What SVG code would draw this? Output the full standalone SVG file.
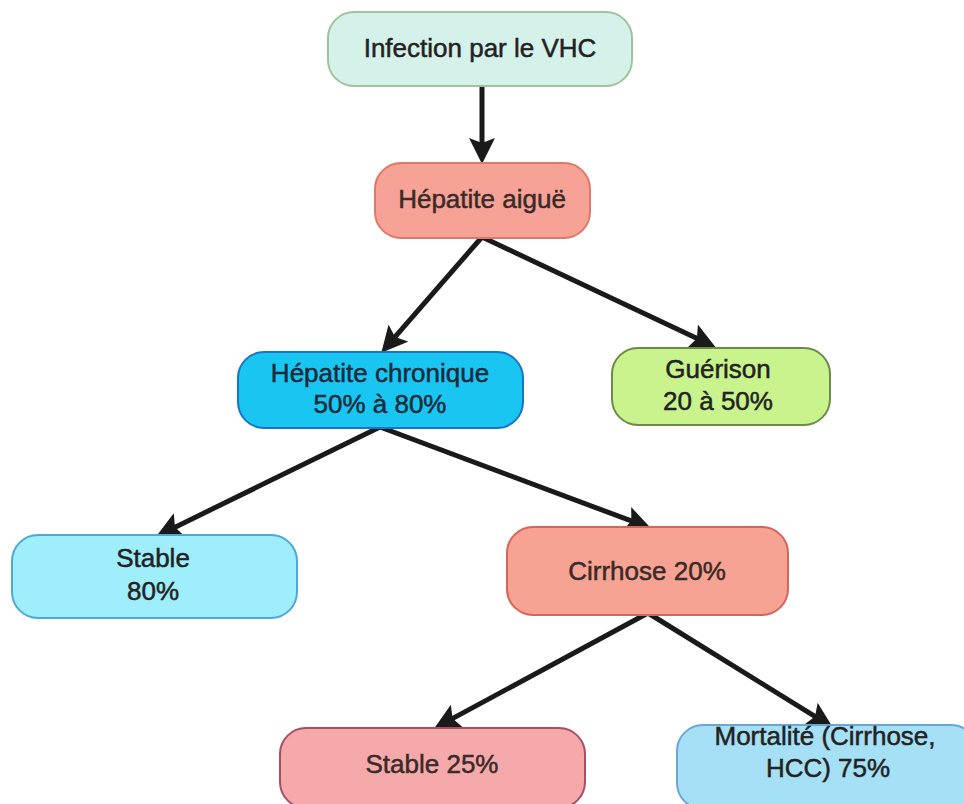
<svg xmlns="http://www.w3.org/2000/svg" width="964" height="804" viewBox="0 0 964 804">
<defs>
<style>
.n rect{stroke-width:2}
.n text{font-family:"Liberation Sans",Arial,sans-serif;font-size:26px;text-anchor:middle;fill:#222222;stroke:#222222;stroke-width:0.5}
.c line{stroke:#1a1a1a;stroke-width:5;marker-end:url(#ah)}
</style>
<marker id="ah" markerUnits="userSpaceOnUse" viewBox="0 0 26 26" markerWidth="26" markerHeight="26" refX="10" refY="13" orient="auto">
<path d="M0,0 L26,13 L0,26 L5,13 z" fill="#1a1a1a"/>
</marker>
</defs>
<rect width="964" height="804" fill="#ffffff"/>
<g id="connectors" class="c">
<line x1="482" y1="86" x2="482" y2="148"/>
<line x1="482" y1="237" x2="391.8" y2="340.7"/>
<line x1="482" y1="237" x2="701.4" y2="340.6"/>
<line x1="380" y1="427" x2="170.5" y2="529.4"/>
<line x1="380" y1="427" x2="636" y2="522.7"/>
<line x1="648" y1="613" x2="448.2" y2="720.9"/>
<line x1="648" y1="613" x2="819.3" y2="719.1"/>
</g>
<g id="n1" class="n">
<rect x="328" y="12" width="304" height="74" rx="26" fill="#d5f2ea" stroke="#9fc39a"/>
<text x="480" y="57">Infection par le VHC</text>
</g>
<g id="n2" class="n">
<rect x="375" y="163" width="215" height="75" rx="26" fill="#f7a296" stroke="#e0786a"/>
<text x="482" y="208" style="fill:#3a2a28;stroke:#3a2a28">Hépatite aiguë</text>
</g>
<g id="n3" class="n">
<rect x="238" y="352" width="285" height="76" rx="26" fill="#19c6f1" stroke="#1a74c4"/>
<text x="380" y="382" style="fill:#1a2a3a;stroke:#1a2a3a">Hépatite chronique</text>
<text x="380" y="413" style="fill:#1a2a3a;stroke:#1a2a3a">50% à 80%</text>
</g>
<g id="n4" class="n">
<rect x="612" y="348" width="218" height="77" rx="26" fill="#c9f38c" stroke="#6c8a4a"/>
<text x="718" y="378">Guérison</text>
<text x="718" y="410">20 à 50%</text>
</g>
<g id="n5" class="n">
<rect x="12" y="535" width="285" height="83" rx="26" fill="#9feefb" stroke="#4ea6e0"/>
<text x="153" y="567">Stable</text>
<text x="153" y="600">80%</text>
</g>
<g id="n6" class="n">
<rect x="507" y="527" width="281" height="88" rx="26" fill="#f6a394" stroke="#d6645a"/>
<text x="647" y="580" style="fill:#3a2a28;stroke:#3a2a28">Cirrhose 20%</text>
</g>
<g id="n7" class="n">
<rect x="280" y="728" width="305" height="80" rx="26" fill="#f5a9ab" stroke="#a8505e"/>
<text x="432" y="773" style="fill:#3a2a28;stroke:#3a2a28">Stable 25%</text>
</g>
<g id="n8" class="n">
<rect x="677" y="725" width="300" height="84" rx="26" fill="#a6e0f6" stroke="#6aa6d6"/>
<text x="825" y="745">Mortalité (Cirrhose,</text>
<text x="828" y="777">HCC) 75%</text>
</g>
</svg>
